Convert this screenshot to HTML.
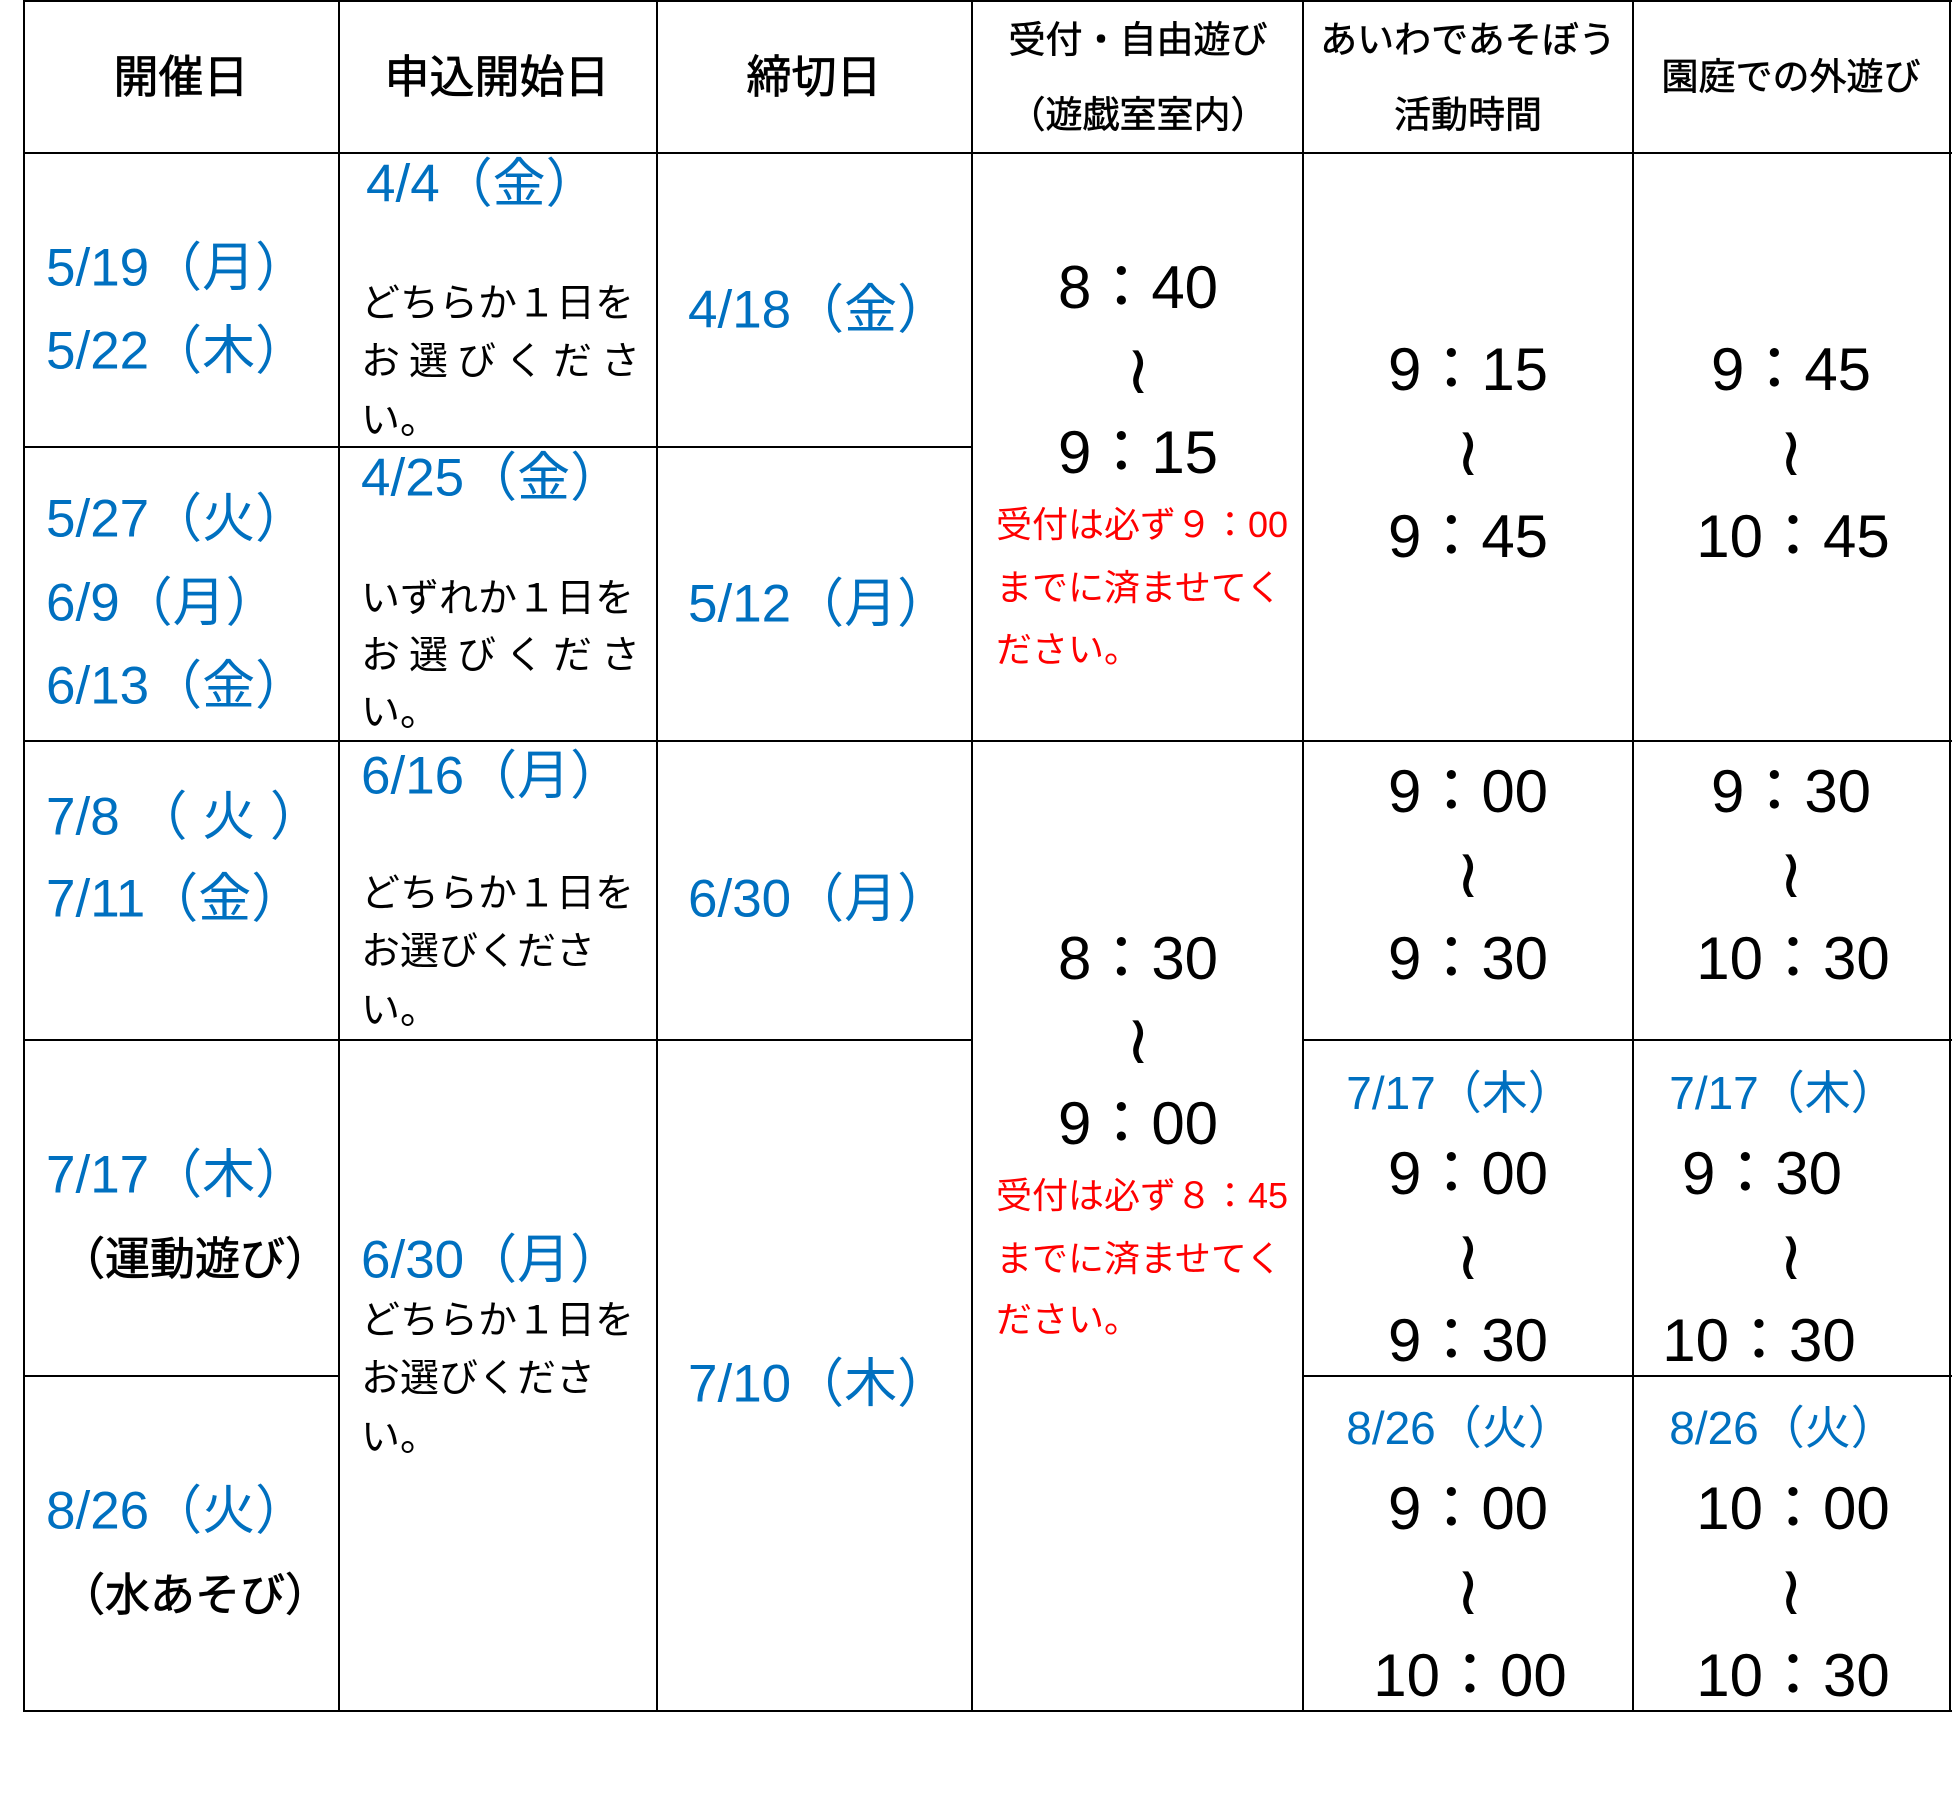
<!DOCTYPE html>
<html><head><meta charset="utf-8"><style>
body{margin:0;width:1952px;height:1809px;background:#fff;position:relative;overflow:hidden;font-family:"Liberation Sans","Noto Sans CJK JP",sans-serif;}
.h{position:absolute;background:#000;height:2px}
.v{position:absolute;background:#000;width:2px}
.t{position:absolute;white-space:nowrap;line-height:1;transform:translateY(-50%)}
.c{position:absolute;white-space:nowrap;line-height:1;transform:translate(-50%,-50%)}
.b{color:#0070c0;font-size:53px}
.tm{font-size:60px}
.s{font-size:39px}
.r{color:#f00;font-size:36px}
.hd{font-size:45px;-webkit-text-stroke:0.8px #000}
.hs{font-size:37px;-webkit-text-stroke:0.6px #000}
.pb{font-size:45px;-webkit-text-stroke:0.8px #000}
.sb{color:#0070c0;font-size:46px}
.w{font-family:"DejaVu Sans",sans-serif;font-size:68px}
.sp{letter-spacing:9px}
</style></head><body>
<div class="h" style="left:23px;top:0;width:1929px"></div>
<div class="h" style="left:23px;top:152px;width:1929px"></div>
<div class="h" style="left:23px;top:446px;width:949px"></div>
<div class="h" style="left:23px;top:740px;width:1929px"></div>
<div class="h" style="left:23px;top:1039px;width:949px"></div>
<div class="h" style="left:1303px;top:1039px;width:649px"></div>
<div class="h" style="left:23px;top:1375px;width:316px"></div>
<div class="h" style="left:1303px;top:1375px;width:649px"></div>
<div class="h" style="left:23px;top:1710px;width:1929px"></div>
<div class="v" style="left:23px;top:0;height:1712px"></div>
<div class="v" style="left:338px;top:0;height:1712px"></div>
<div class="v" style="left:656px;top:0;height:1712px"></div>
<div class="v" style="left:971px;top:0;height:1712px"></div>
<div class="v" style="left:1302px;top:0;height:1712px"></div>
<div class="v" style="left:1632px;top:0;height:1712px"></div>
<div class="v" style="left:1949px;top:0;height:1712px"></div>

<div class="c hd" style="left:181px;top:77px">開催日</div>
<div class="c hd" style="left:497px;top:77px">申込開始日</div>
<div class="c hd" style="left:814px;top:77px">締切日</div>
<div class="c hs" style="left:1138px;top:40px">受付・自由遊び</div>
<div class="c hs" style="left:1138px;top:115px">（遊戯室室内）</div>
<div class="c hs" style="left:1468px;top:40px">あいわであそぼう</div>
<div class="c hs" style="left:1468px;top:115px">活動時間</div>
<div class="c hs" style="left:1791px;top:77px">園庭での外遊び</div>

<div class="t b" style="left:46px;top:268px">5/19（月）</div>
<div class="t b" style="left:46px;top:351px">5/22（木）</div>
<div class="t b" style="left:46px;top:519px">5/27（火）</div>
<div class="t b" style="left:46px;top:603px">6/9（月）</div>
<div class="t b" style="left:46px;top:686px">6/13（金）</div>
<div class="t b" style="left:46px;top:817px">7/8 （ 火 ）</div>
<div class="t b" style="left:46px;top:899px">7/11（金）</div>
<div class="t b" style="left:46px;top:1175px">7/17（木）</div>
<div class="t pb" style="left:60px;top:1259px">（運動遊び）</div>
<div class="t b" style="left:46px;top:1511px">8/26（火）</div>
<div class="t pb" style="left:60px;top:1595px">（水あそび）</div>

<div class="t b" style="left:366px;top:184px">4/4（金）</div>
<div class="t s" style="left:361px;top:304px">どちらか１日を</div>
<div class="t s sp" style="left:361px;top:362px">お選びくださ</div>
<div class="t s" style="left:361px;top:421px">い。</div>
<div class="t b" style="left:361px;top:478px">4/25（金）</div>
<div class="t s" style="left:361px;top:599px">いずれか１日を</div>
<div class="t s sp" style="left:361px;top:656px">お選びくださ</div>
<div class="t s" style="left:361px;top:713px">い。</div>
<div class="t b" style="left:361px;top:776px">6/16（月）</div>
<div class="t s" style="left:361px;top:894px">どちらか１日を</div>
<div class="t s" style="left:361px;top:952px">お選びくださ</div>
<div class="t s" style="left:361px;top:1011px">い。</div>
<div class="t b" style="left:361px;top:1260px">6/30（月）</div>
<div class="t s" style="left:361px;top:1321px">どちらか１日を</div>
<div class="t s" style="left:361px;top:1379px">お選びくださ</div>
<div class="t s" style="left:361px;top:1438px">い。</div>

<div class="t b" style="left:688px;top:310px">4/18（金）</div>
<div class="t b" style="left:688px;top:604px">5/12（月）</div>
<div class="t b" style="left:688px;top:899px">6/30（月）</div>
<div class="t b" style="left:688px;top:1384px">7/10（木）</div>

<div class="c tm" style="left:1138px;top:288px">8：40</div>
<div class="c w" style="left:1138px;top:371px">≀</div>
<div class="c tm" style="left:1138px;top:453px">9：15</div>
<div class="t r" style="left:996px;top:525px">受付は必ず９：00</div>
<div class="t r" style="left:996px;top:588px">までに済ませてく</div>
<div class="t r" style="left:996px;top:650px">ださい。</div>
<div class="c tm" style="left:1138px;top:959px">8：30</div>
<div class="c w" style="left:1138px;top:1041px">≀</div>
<div class="c tm" style="left:1138px;top:1124px">9：00</div>
<div class="t r" style="left:996px;top:1196px">受付は必ず８：45</div>
<div class="t r" style="left:996px;top:1259px">までに済ませてく</div>
<div class="t r" style="left:996px;top:1320px">ださい。</div>

<div class="c tm" style="left:1468px;top:370px">9：15</div>
<div class="c w" style="left:1468px;top:453px">≀</div>
<div class="c tm" style="left:1468px;top:537px">9：45</div>
<div class="c tm" style="left:1468px;top:792px">9：00</div>
<div class="c w" style="left:1468px;top:875px">≀</div>
<div class="c tm" style="left:1468px;top:959px">9：30</div>
<div class="c sb" style="left:1460px;top:1093px">7/17（木）</div>
<div class="c tm" style="left:1468px;top:1174px">9：00</div>
<div class="c w" style="left:1468px;top:1257px">≀</div>
<div class="c tm" style="left:1468px;top:1341px">9：30</div>
<div class="c sb" style="left:1460px;top:1428px">8/26（火）</div>
<div class="c tm" style="left:1468px;top:1509px">9：00</div>
<div class="c w" style="left:1468px;top:1592px">≀</div>
<div class="c tm" style="left:1470px;top:1676px">10：00</div>

<div class="c tm" style="left:1791px;top:370px">9：45</div>
<div class="c w" style="left:1791px;top:453px">≀</div>
<div class="c tm" style="left:1793px;top:537px">10：45</div>
<div class="c tm" style="left:1791px;top:792px">9：30</div>
<div class="c w" style="left:1791px;top:875px">≀</div>
<div class="c tm" style="left:1793px;top:959px">10：30</div>
<div class="c sb" style="left:1783px;top:1093px">7/17（木）</div>
<div class="c tm" style="left:1762px;top:1174px">9：30</div>
<div class="c w" style="left:1791px;top:1257px">≀</div>
<div class="c tm" style="left:1759px;top:1341px">10：30</div>
<div class="c sb" style="left:1783px;top:1428px">8/26（火）</div>
<div class="c tm" style="left:1793px;top:1509px">10：00</div>
<div class="c w" style="left:1791px;top:1592px">≀</div>
<div class="c tm" style="left:1793px;top:1676px">10：30</div>
</body></html>
